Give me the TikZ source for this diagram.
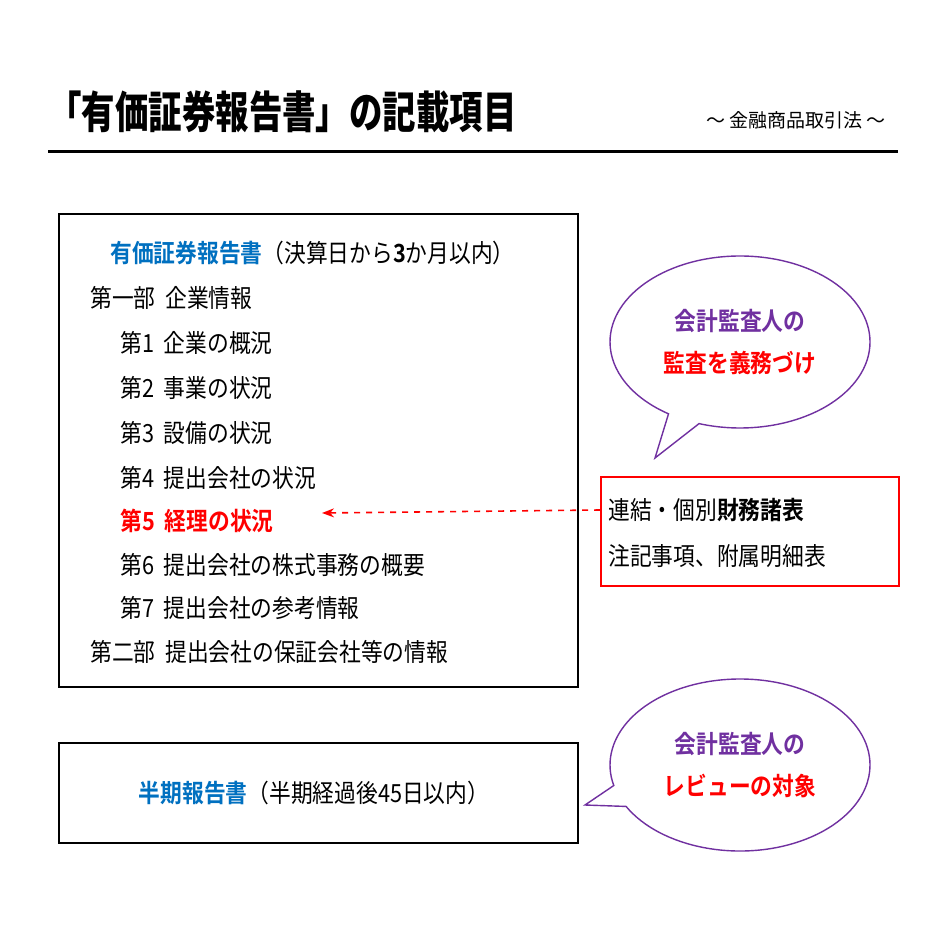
\documentclass[tikz,border=0pt]{standalone}
\usepackage{fontspec}
\setmainfont[FakeStretch=0.87]{Noto Sans CJK JP}
\newfontfamily\jpb[FakeStretch=0.87]{Noto Sans CJK JP Bold}
\newfontfamily\jpt[FakeStretch=0.76]{Noto Sans CJK JP Black}
\newfontfamily\jpn{Noto Sans CJK JP}
\usetikzlibrary{shapes.callouts,arrows.meta}
\definecolor{jblue}{RGB}{0,112,192}
\definecolor{jpurple}{RGB}{112,48,160}
\definecolor{jred}{RGB}{255,0,0}
\begin{document}
\begin{tikzpicture}[x=0.5pt,y=-0.5pt,
  txt/.style={anchor=west,inner sep=0,font=\fontsize{12.5}{14}\selectfont},
  box/.style={draw=black,line width=1pt},
  bub/.style={ellipse callout,draw=jpurple,line width=0.7pt,fill=white,minimum width=130pt,minimum height=86pt,align=center,font=\jpb\fontsize{12.5}{21}\selectfont}]
\useasboundingbox (0,0) rectangle (945,945);
\fill[white] (0,0) rectangle (945,945);
\node[anchor=west,inner sep=0,font=\jpt\fontsize{22}{24}\selectfont] (title) at (48,112) {「有価証券報告書」の記載項目};
\node[anchor=east,inner sep=0,font=\jpn\fontsize{9.5}{11}\selectfont] (sub) at (886,120) {～ 金融商品取引法 ～};
\coordinate (l1) at (48,152); \coordinate (l2) at (898,152);
\draw[line width=1.5pt] (l1) -- (l2);
\node[box,minimum width=259.5pt,minimum height=236.5pt,anchor=north west,inner sep=0] (b1) at (58,213) {};
\node[txt] (h1) at (110,253) {{\jpb\color{jblue}有価証券報告書}（決算日から{\jpb 3}か月以内）};
\node[txt] (i0) at (90,298) {第一部\ \ 企業情報};
\node[txt] (i1) at (120,343) {第1\ \ 企業の概況};
\node[txt] (i2) at (120,388) {第2\ \ 事業の状況};
\node[txt] (i3) at (120,433) {第3\ \ 設備の状況};
\node[txt] (i4) at (120,478) {第4\ \ 提出会社の状況};
\node[txt,text=jred,font=\jpb\fontsize{12.5}{14}\selectfont] (i5) at (120,521) {第5\ \ 経理の状況};
\node[txt] (i6) at (120,565) {第6\ \ 提出会社の株式事務の概要};
\node[txt] (i7) at (120,608) {第7\ \ 提出会社の参考情報};
\node[txt] (i8) at (90,652) {第二部\ \ 提出会社の保証会社等の情報};
\node[draw=jred,line width=1pt,minimum width=149pt,minimum height=54.5pt,anchor=north west,inner sep=0] (rb) at (600,476) {};
\node[txt] (r1) at (608,510) {連結・個別{\jpb 財務諸表}};
\node[txt] (r2) at (608,556) {注記事項、附属明細表};
\coordinate (at) at (322,513);
\draw[jred,dashed,line width=0.8pt,-{Stealth[length=6pt]}] (rb.west|-r1) -- (at);
\node[box,minimum width=259.5pt,minimum height=50pt,anchor=north west,inner sep=0] (b2) at (58,742) {};
\node[inner sep=0,font=\fontsize{12.5}{14}\selectfont] (h2) at (314,793) {{\jpb\color{jblue}半期報告書}（半期経過後45日以内）};
\node[bub,callout absolute pointer={(655,458)}] (c1) at (740,342) {\textcolor{jpurple}{会計監査人の}\\\textcolor{jred}{監査を義務づけ}};
\node[bub,callout absolute pointer={(585,805)}] (c2) at (740,765) {\textcolor{jpurple}{会計監査人の}\\\textcolor{jred}{レビューの対象}};
\end{tikzpicture}
\end{document}
